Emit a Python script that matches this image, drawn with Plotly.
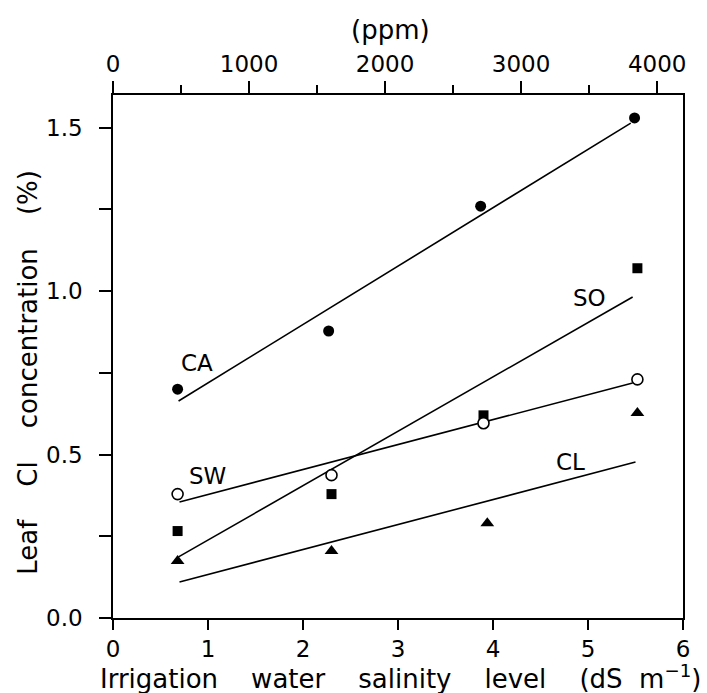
import plotly.graph_objects as go

# ---- data ----
series_names = ["CA", "SO", "SW", "CL"]
ca_x = [0.68, 2.27, 3.87, 5.49]
ca_y = [0.70, 0.878, 1.26, 1.53]
so_x = [0.68, 2.30, 3.90, 5.52]
so_y = [0.266, 0.379, 0.62, 1.07]
sw_x = [0.68, 2.30, 3.90, 5.52]
sw_y = [0.379, 0.437, 0.596, 0.73]
cl_x = [0.68, 2.30, 3.94, 5.52]
cl_y = [0.174, 0.205, 0.29, 0.627]

# fitted regression line end points
ca_fit_x = [0.69, 5.45]
ca_fit_y = [0.664, 1.514]
so_fit_x = [0.69, 5.47]
so_fit_y = [0.187, 0.982]
sw_fit_x = [0.70, 5.47]
sw_fit_y = [0.355, 0.719]
cl_fit_x = [0.70, 5.50]
cl_fit_y = [0.11, 0.477]

# series label positions
label_x = [0.88, 5.02, 0.99, 4.82]
label_y = [0.78, 0.98, 0.434, 0.477]

x_ticks = [0, 1, 2, 3, 4, 5, 6]
y_ticks = [0.0, 0.5, 1.0, 1.5]
ppm_ticks = [0, 1000, 2000, 3000, 4000]

FONT = "DejaVu Sans"
fig = go.Figure()

def add_fit(fx, fy):
    fig.add_trace(go.Scatter(x=fx, y=fy, mode="lines",
                             line=dict(color="black", width=1.6),
                             showlegend=False, hoverinfo="skip"))

for fx, fy in [(ca_fit_x, ca_fit_y), (so_fit_x, so_fit_y),
               (sw_fit_x, sw_fit_y), (cl_fit_x, cl_fit_y)]:
    add_fit(fx, fy)

fig.add_trace(go.Scatter(x=ca_x, y=ca_y, mode="markers", name="CA",
                         marker=dict(symbol="circle", size=11, color="black")))
fig.add_trace(go.Scatter(x=so_x, y=so_y, mode="markers", name="SO",
                         marker=dict(symbol="square", size=10, color="black")))
fig.add_trace(go.Scatter(x=sw_x, y=sw_y, mode="markers", name="SW",
                         marker=dict(symbol="circle", size=11, color="white",
                                     line=dict(color="black", width=1.6))))
fig.add_trace(go.Scatter(x=cl_x, y=cl_y, mode="markers", name="CL",
                         marker=dict(symbol="triangle-up", size=12, color="black")))

# dummy trace for the top ppm axis
fig.add_trace(go.Scatter(x=[0, 4190], y=[None, None], xaxis="x2",
                         mode="markers", showlegend=False, hoverinfo="skip"))

for name, lx, ly in zip(series_names, label_x, label_y):
    fig.add_annotation(x=lx, y=ly, text=name, showarrow=False,
                       xanchor="center", yanchor="middle",
                       font=dict(family=FONT, size=23, color="black"))

SP = "\u00a0\u00a0\u00a0 "
fig.add_annotation(xref="paper", yref="paper", x=0.505, y=-0.112,
                   xanchor="center", yanchor="middle",
                   text="Irrigation" + SP + "water" + SP + "salinity" + SP + "level" + SP
                        + "(dS\u00a0\u00a0m<sup>\u22121</sup>)",
                   showarrow=False, font=dict(family=FONT, size=26, color="black"))
fig.add_annotation(xref="paper", yref="paper", x=-0.148, y=0.47,
                   xanchor="center", yanchor="middle",
                   text="Leaf" + SP + "Cl" + SP + "concentration" + SP + "(%)",
                   textangle=-90, showarrow=False,
                   font=dict(family=FONT, size=26, color="black"))
fig.add_annotation(xref="paper", yref="paper", x=0.486, y=1.124,
                   xanchor="center", yanchor="middle",
                   text="(ppm)", showarrow=False,
                   font=dict(family=FONT, size=26, color="black"))

tickfont = dict(family=FONT, size=23, color="black")
fig.update_layout(
    width=707, height=693,
    margin=dict(l=113, r=24, t=95, b=75),
    paper_bgcolor="white", plot_bgcolor="white",
    showlegend=False,
    xaxis=dict(range=[0, 6], tickvals=x_ticks, ticks="outside", ticklen=10,
               tickwidth=1.6, tickcolor="black", showline=True, linecolor="black",
               linewidth=1.6, showgrid=False, zeroline=False, tickfont=tickfont),
    xaxis2=dict(range=[0, 4190], overlaying="x", side="top", tickvals=ppm_ticks,
                ticks="outside", ticklen=12, tickwidth=1.6, tickcolor="black",
                minor=dict(dtick=500, tick0=0, ticks="outside", ticklen=8,
                           tickwidth=1.6, tickcolor="black", showgrid=False),
                showline=True, linecolor="black", linewidth=1.6, showgrid=False,
                zeroline=False, tickfont=tickfont),
    yaxis=dict(range=[0, 1.6], tickvals=y_ticks, tickformat=".1f", ticks="outside",
               ticklen=12, tickwidth=1.6, tickcolor="black",
               minor=dict(dtick=0.25, tick0=0, ticks="outside", ticklen=12,
                          tickwidth=1.6, tickcolor="black", showgrid=False),
               showline=True, mirror=True, linecolor="black", linewidth=1.6,
               showgrid=False, zeroline=False, tickfont=tickfont,
               ticklabelstandoff=12),
)

fig.write_html("out.html", config={"displayModeBar": False},
               post_script="document.body.style.margin='0px';")
